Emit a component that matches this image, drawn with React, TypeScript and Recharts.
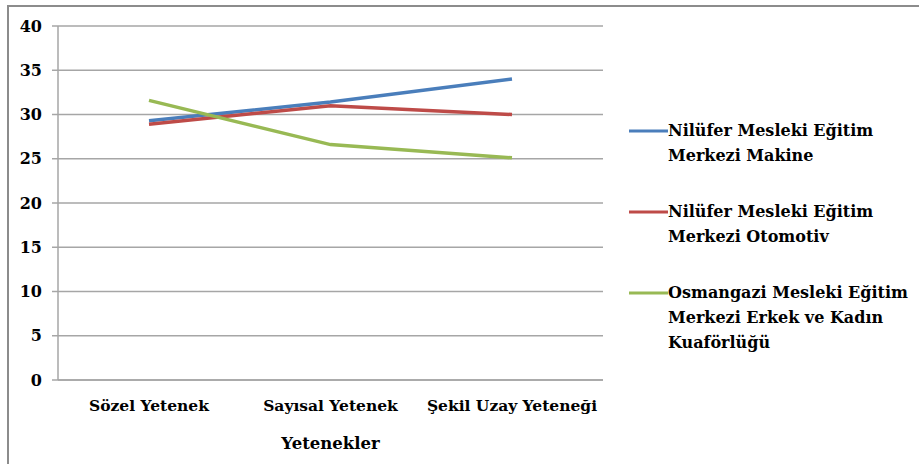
import React from 'react';
import { LineChart, Line, XAxis, YAxis, CartesianGrid } from 'recharts';

const categories = ['Sözel Yetenek', 'Sayısal Yetenek', 'Şekil Uzay Yeteneği'];
const makine = [29.3, 31.4, 34.0];
const otomotiv = [28.9, 31.0, 30.0];
const kuafor = [31.6, 26.6, 25.1];
const yTicks = [0, 5, 10, 15, 20, 25, 30, 35, 40];

const seriesNames = [
  'Nilüfer Mesleki Eğitim Merkezi Makine',
  'Nilüfer Mesleki Eğitim Merkezi Otomotiv',
  'Osmangazi Mesleki Eğitim Merkezi Erkek ve Kadın Kuaförlüğü',
];
const legendLines = [
  ['Nilüfer Mesleki Eğitim', 'Merkezi Makine'],
  ['Nilüfer Mesleki Eğitim', 'Merkezi Otomotiv'],
  ['Osmangazi Mesleki Eğitim', 'Merkezi Erkek ve Kadın', 'Kuaförlüğü'],
];
const colors = ['#4a7ebb', '#be4b48', '#98b954'];
const seriesValues = [makine, otomotiv, kuafor];

const data = categories.map((c, i) => ({
  name: c,
  s0: seriesValues[0][i],
  s1: seriesValues[1][i],
  s2: seriesValues[2][i],
}));

const FONT = 'DejaVu Serif, serif';

const LegendBox = () => (
  <div style={{ position: 'absolute', left: 628, top: 118, width: 290, fontFamily: FONT, fontWeight: 'bold', fontSize: 16, color: '#000' }}>
    {legendLines.map((lines, i) => (
      <div key={i} style={{ display: 'flex', alignItems: 'flex-start', marginBottom: i < 2 ? 31 : 0 }}>
        <svg width={40} height={25} style={{ flex: 'none' }}>
          <line x1={1} x2={40} y1={13} y2={13} stroke={colors[i]} strokeWidth={3} />
        </svg>
        <div style={{ lineHeight: '25px', whiteSpace: 'nowrap' }}>
          {lines.map((l, j) => (
            <div key={j}>{l}</div>
          ))}
        </div>
      </div>
    ))}
  </div>
);

export default function App() {
  return (
    <div style={{ position: 'absolute', left: 0, top: 0, width: 919, height: 464, background: '#fff', overflow: 'hidden' }}>
      <div style={{ position: 'absolute', left: 7, top: 5, width: 1000, height: 600, borderLeft: '2px solid #8c8c8c', borderTop: '2px solid #8c8c8c', boxSizing: 'border-box' }} />
      <LineChart width={919} height={464} data={data} margin={{ top: 26, right: 316, bottom: 0, left: 8 }} style={{ position: 'absolute', left: 0, top: 0 }}>
        <CartesianGrid vertical={false} stroke="#a6a6a6" strokeWidth={1.5} />
        <XAxis
          dataKey="name"
          height={84}
          padding={{ left: 91, right: 91 }}
          tickLine={false}
          tickSize={0}
          tickMargin={20}
          axisLine={{ stroke: '#a6a6a6', strokeWidth: 1.5 }}
          tick={{ fill: '#000', fontFamily: FONT, fontWeight: 'bold', fontSize: 15.5 }}
          label={{ value: 'Yetenekler', position: 'insideBottom', offset: 15, fill: '#000', fontFamily: FONT, fontWeight: 'bold', fontSize: 16.5 }}
        />
        <YAxis
          width={50}
          domain={[0, 40]}
          ticks={yTicks}
          interval={0}
          tickSize={6}
          tickMargin={10}
          axisLine={{ stroke: '#a6a6a6', strokeWidth: 1.5 }}
          tickLine={{ stroke: '#a6a6a6', strokeWidth: 1.5 }}
          tick={{ fill: '#000', fontFamily: FONT, fontWeight: 'bold', fontSize: 16 }}
        />
        {seriesNames.map((n, i) => (
          <Line
            key={n}
            dataKey={'s' + i}
            name={n}
            stroke={colors[i]}
            strokeWidth={3.5}
            dot={false}
            activeDot={false}
            isAnimationActive={false}
          />
        ))}
      </LineChart>
      <LegendBox />
    </div>
  );
}
